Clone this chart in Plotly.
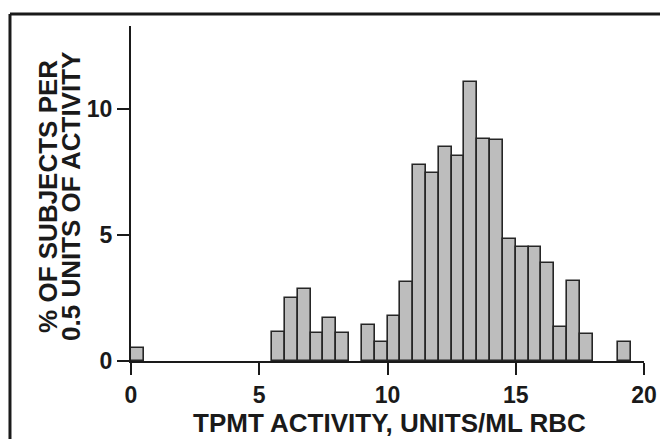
import plotly.graph_objects as go

# Histogram data: left edge of each 0.5-unit bin and % of subjects in it
bin_left = [0.0, 5.5, 6.0, 6.5, 7.0, 7.5, 8.0, 9.0, 9.5, 10.0, 10.5, 11.0, 11.5,
            12.0, 12.5, 13.0, 13.5, 14.0, 14.5, 15.0, 15.5, 16.0, 16.5, 17.0,
            17.5, 19.0]
pct = [0.53, 1.14, 2.50, 2.84, 1.13, 1.71, 1.13, 1.42, 0.75, 1.79, 3.12, 7.80, 7.46,
       8.50, 8.13, 11.08, 8.80, 8.79, 4.85, 4.54, 4.54, 3.88, 1.35, 3.16,
       1.06, 0.76]
bin_width = 0.5

x_ticks = [0, 5, 10, 15, 20]
y_ticks = [0, 5, 10]
x_title = "TPMT ACTIVITY, UNITS/ML RBC"
y_title_lines = ["% OF SUBJECTS PER", "0.5 UNITS OF ACTIVITY"]

FONT = "Liberation Sans, Arial, Helvetica, sans-serif"
INK = "#1a1a1a"

fig = go.Figure()
fig.add_trace(go.Bar(
    x=bin_left,
    y=pct,
    width=[bin_width] * len(bin_left),
    offset=0,
    marker=dict(color="#bdbdbd", line=dict(color="#262626", width=1.6)),
    hoverinfo="x+y",
))

tickfont = dict(family=FONT, size=23, color=INK, weight="bold")

fig.update_layout(
    width=660, height=431,
    margin=dict(l=123, r=24, t=18, b=78),
    paper_bgcolor="white", plot_bgcolor="white",
    showlegend=False,
    bargap=0,
    font=dict(family=FONT, color=INK, size=23, weight="bold"),
    xaxis=dict(
        range=[0, 20], tickvals=x_ticks, ticktext=[str(v) for v in x_ticks],
        showgrid=False, zeroline=False, showline=True, linecolor=INK, linewidth=2,
        ticks="outside", ticklen=12, tickwidth=2, tickcolor=INK,
        tickfont=tickfont,
    ),
    yaxis=dict(
        range=[0, 13.3], tickvals=y_ticks, ticktext=[str(v) for v in y_ticks],
        showgrid=False, zeroline=False, showline=True, linecolor=INK, linewidth=2,
        ticks="outside", ticklen=12, tickwidth=2, tickcolor=INK,
        tickfont=tickfont,
    ),
    annotations=[
        dict(text=x_title, xref="paper", yref="paper", x=0.504, y=-0.185,
             xanchor="center", yanchor="middle", showarrow=False,
             font=dict(family=FONT, size=26, color=INK, weight="bold")),
        dict(text=y_title_lines[0], xref="paper", yref="paper", x=-0.162, y=0.4925,
             xanchor="center", yanchor="middle", showarrow=False, textangle=-90,
             font=dict(family=FONT, size=26, color=INK, weight="bold")),
        dict(text=y_title_lines[1], xref="paper", yref="paper", x=-0.117, y=0.4925,
             xanchor="center", yanchor="middle", showarrow=False, textangle=-90,
             font=dict(family=FONT, size=26, color=INK, weight="bold")),
    ],
    shapes=[
        dict(type="line", xref="paper", yref="paper", x0=-0.2359, x1=1.1,
             y0=1.0358, y1=1.0358, line=dict(color=INK, width=3)),
        dict(type="line", xref="paper", yref="paper", x0=-0.2359, x1=-0.2359,
             y0=1.0358, y1=-0.3, line=dict(color=INK, width=3)),
    ],
)

fig.write_html("out.html")
